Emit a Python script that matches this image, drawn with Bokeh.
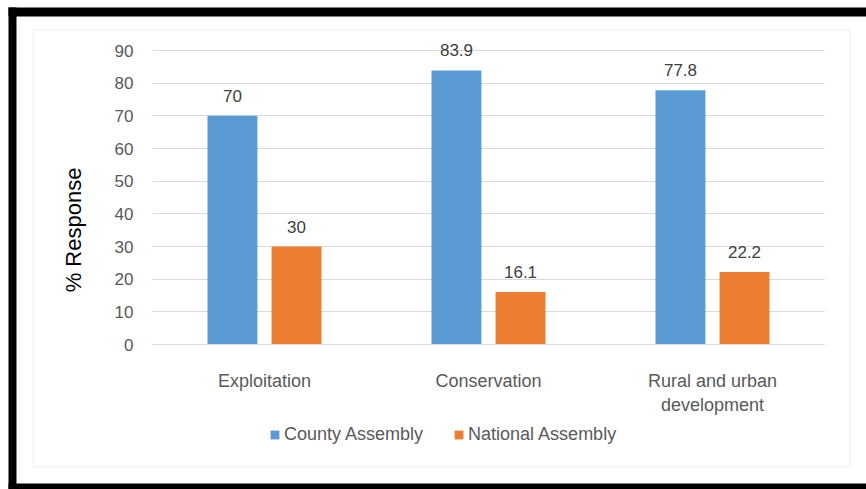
from bokeh.plotting import figure
from bokeh.models import (ColumnDataSource, Range1d, LabelSet, LinearAxis, Grid,
                          Legend, LegendItem, BoxAnnotation, FixedTicker)
from bokeh.core.properties import value
from bokeh.transform import dodge
from bokeh.embed import file_html
from bokeh.resources import INLINE

categories = ["Exploitation", "Conservation", "Rural and urban\ndevelopment"]
county = [70, 83.9, 77.8]
national = [30, 16.1, 22.2]
county_labels = ["70", "83.9", "77.8"]
national_labels = ["30", "16.1", "22.2"]
y_ticks = [0, 10, 20, 30, 40, 50, 60, 70, 80, 90]

FONT = "Liberation Sans"
BLUE = "#5B9BD5"
ORANGE = "#ED7D31"
W, H = 866, 489

idx = list(range(len(categories)))
src = ColumnDataSource(dict(x=idx, county=county, national=national,
                            cl=county_labels, nl=national_labels))

# frame covers the whole canvas; ranges put 0..90 and the categories where the reference has them
px_x = 224.0          # pixels per category
px_y = 294.0 / 90.0   # pixels per unit
x0 = -264.0 / px_x
y0 = -(H - 344.0) / px_y
p = figure(width=W, height=H,
           x_range=Range1d(x0, x0 + W / px_x), y_range=Range1d(y0, y0 + H / px_y),
           output_backend="svg", toolbar_location=None,
           x_axis_location=None, y_axis_location=None,
           min_border=0)
p.background_fill_color = "white"
p.border_fill_color = "white"
p.outline_line_color = None
for g in list(p.grid):
    g.visible = False

lo, hi = -0.5, len(categories) - 0.5

ygrid = Grid(dimension=1, ticker=FixedTicker(ticks=y_ticks),
             bounds=(min(y_ticks), max(y_ticks)), cross_bounds=(lo, hi),
             grid_line_color="#D9D9D9", grid_line_width=1)
p.add_layout(ygrid)

bw = 0.223
off = 0.143
r1 = p.vbar(x=dodge("x", -off), top="county", width=bw,
            source=src, fill_color=BLUE, line_color=None)
r2 = p.vbar(x=dodge("x", off), top="national", width=bw,
            source=src, fill_color=ORANGE, line_color=None)

for col, lab, o in (("county", "cl", -off), ("national", "nl", off)):
    ls = LabelSet(x=dodge("x", o), y=col, text=lab, source=src,
                  text_align="center", text_baseline="bottom", y_offset=14,
                  text_font=value(FONT), text_font_size="17px", text_color="#404040")
    p.add_layout(ls)

yaxis = LinearAxis(fixed_location=lo, ticker=FixedTicker(ticks=y_ticks),
                   bounds=(-20, max(y_ticks)),
                   axis_line_color=None, major_tick_line_color=None,
                   minor_tick_line_color=None, major_tick_out=0, major_tick_in=0,
                   major_label_standoff=19, major_label_text_font=FONT,
                   major_label_text_font_size="17px", major_label_text_color="#595959",
                   axis_label="% Response", axis_label_text_font=FONT,
                   axis_label_text_font_size="22px", axis_label_text_font_style="normal",
                   axis_label_text_color="black", axis_label_standoff=26)
p.add_layout(yaxis, "left")

xaxis = LinearAxis(fixed_location=0, ticker=FixedTicker(ticks=idx),
                   major_label_overrides={i: c for i, c in zip(idx, categories)},
                   bounds=(lo, hi), axis_line_color="#D9D9D9",
                   major_tick_line_color=None, minor_tick_line_color=None,
                   major_tick_out=0, major_tick_in=0, major_label_standoff=26,
                   major_label_text_font=FONT, major_label_text_font_size="18px",
                   major_label_text_color="#595959")
p.add_layout(xaxis, "below")

legend = Legend(items=[LegendItem(label="County Assembly", renderers=[r1]),
                       LegendItem(label="National Assembly", renderers=[r2])],
                orientation="horizontal", location=(269, 44),
                glyph_width=11, glyph_height=11, label_standoff=4, spacing=30,
                padding=0, margin=0, border_line_color=None,
                background_fill_alpha=0,
                label_text_font=FONT, label_text_font_size="18px",
                label_text_color="#595959")
p.add_layout(legend)

# decorative frames (screen units, y measured from the bottom)
frames = [
    dict(left=32.5, right=849.5, top=H - 29.5, bottom=H - 466.5, fill_alpha=0,
         line_color="#D9D9D9", line_width=1.5),
    dict(left=8, right=16, top=H - 7, bottom=0, fill_color="black", fill_alpha=1,
         line_color=None),
    dict(left=8, right=W, top=H - 7, bottom=H - 16, fill_color="black", fill_alpha=1,
         line_color=None),
    dict(left=8, right=W, top=H - 483, bottom=0, fill_color="black", fill_alpha=1,
         line_color=None),
]
for f in frames:
    b = BoxAnnotation(left_units="screen", right_units="screen",
                      top_units="screen", bottom_units="screen",
                      level="overlay", editable=False, **f)
    p.add_layout(b)

open("out.html", "w").write(file_html(p, INLINE))
